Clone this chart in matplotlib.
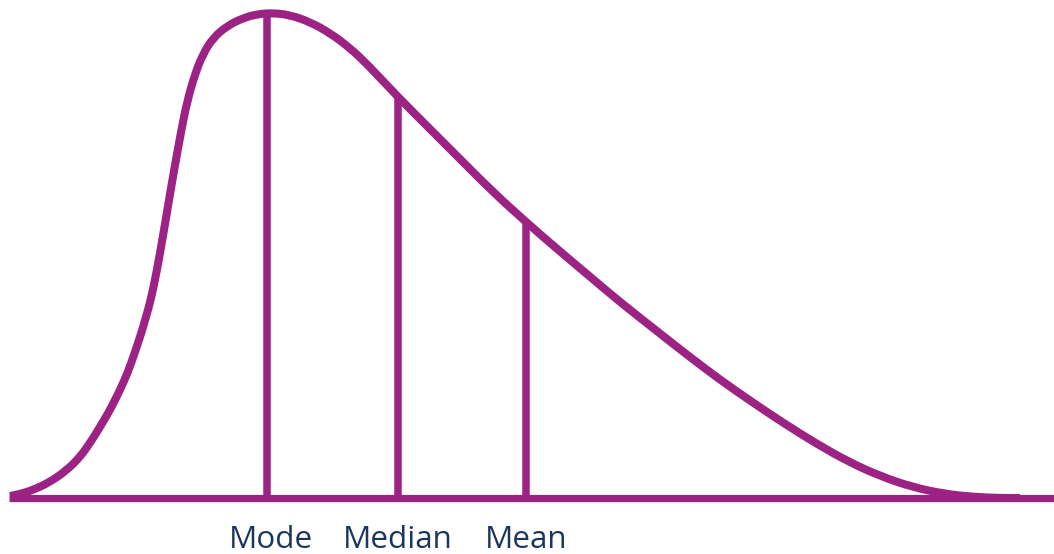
import matplotlib
matplotlib.use("Agg")
import matplotlib.pyplot as plt
from matplotlib.path import Path
from matplotlib.patches import PathPatch

# Curve: x position (px) and height above baseline (px)
curve_x = [10, 20, 33, 50, 67, 80, 90, 100, 110, 120, 128, 135, 141, 146, 151,
           157, 163, 169, 175, 181, 187, 195, 203, 213, 227, 243, 258, 273,
           290, 310, 330, 350, 368, 397, 427, 460, 493, 526, 556, 588, 620,
           653, 686, 719, 752, 785, 817, 849, 880, 912, 945, 975, 1000, 1020]
curve_y_px = [496, 494, 490, 482, 470, 457, 443, 427, 410, 390, 372, 352, 334,
              317, 299, 270, 236, 200, 165, 132, 102, 74, 54, 38, 26, 18, 14,
              13, 15, 22, 33, 48, 65, 96, 126, 159, 192, 222, 248, 275, 302,
              328, 354, 379, 402, 424, 444, 462, 476, 487, 494, 497, 498, 498]

baseline_px = 498
curve_h = [baseline_px - v for v in curve_y_px]

labels = ["Mode", "Median", "Mean"]
marker_x = [267, 398, 526]
marker_top_px = [15, 96, 222]
marker_h = [baseline_px - v for v in marker_top_px]

purple = "#9C2383"
navy = "#1B365D"

fig = plt.figure(figsize=(10.54, 5.54), dpi=100)
ax = fig.add_axes([0, 0, 1, 1])
ax.set_xlim(0, 1054)
ax.set_ylim(baseline_px - 554, baseline_px)
ax.axis("off")

# smooth path through the read points (quadratic segments between midpoints)
pts = list(zip(curve_x, curve_h))
verts = [pts[0]]
codes = [Path.MOVETO]
mid = ((pts[0][0] + pts[1][0]) / 2, (pts[0][1] + pts[1][1]) / 2)
verts.append(mid)
codes.append(Path.LINETO)
for i in range(1, len(pts) - 1):
    nxt = ((pts[i][0] + pts[i + 1][0]) / 2, (pts[i][1] + pts[i + 1][1]) / 2)
    verts += [pts[i], nxt]
    codes += [Path.CURVE3, Path.CURVE3]
verts.append(pts[-1])
codes.append(Path.LINETO)

ax.plot([9, 1054], [0, 0], color=purple, lw=5.2, solid_capstyle="butt")
ax.add_patch(PathPatch(Path(verts, codes), facecolor="none", edgecolor=purple,
                       lw=5.8, capstyle="butt", joinstyle="round"))

label_x = [271, 398, 526]
for x, h in zip(marker_x, marker_h):
    ax.plot([x, x], [0, h], color=purple, lw=5.4, solid_capstyle="butt")
for lx, lab in zip(label_x, labels):
    ax.text(lx, -50, lab, ha="center", va="baseline", color=navy,
            fontsize=22.6, family=["Open Sans", "DejaVu Sans"])

fig.savefig("out.png", dpi=100)
